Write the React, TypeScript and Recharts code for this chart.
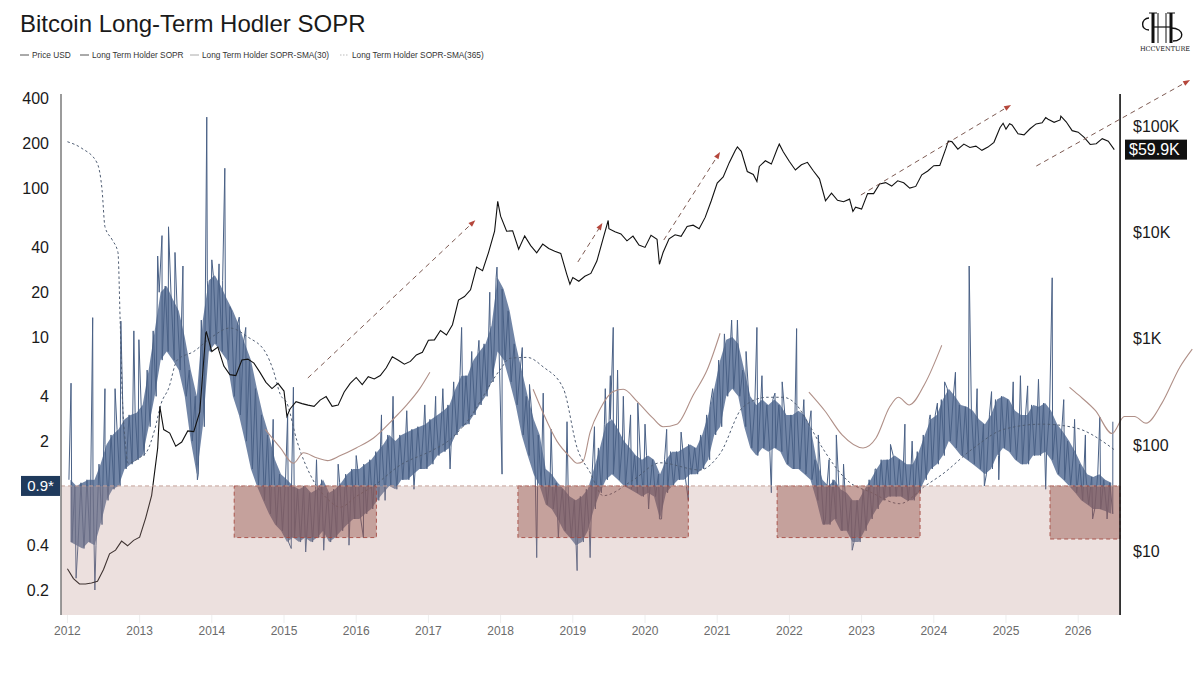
import React from "react";
import { ComposedChart, Line, Area, XAxis, YAxis, ReferenceArea, ReferenceLine } from "recharts";

// axis extents
const X_MIN = 2011.911;
const X_MAX = 2027.618;
const SOPR_MIN = 0.1359;
const SOPR_MAX = 428.9;
const PRICE_MIN = 2.5;
const PRICE_MAX = 200000;
const AXIS_T = 2026.58; // where the black price axis sits

const years = [2012, 2013, 2014, 2015, 2016, 2017, 2018, 2019, 2020, 2021, 2022, 2023, 2024, 2025, 2026];
const soprTicks = [0.2, 0.4, 1, 2, 4, 10, 20, 40, 100, 200, 400];
const priceTicks = [10, 100, 1000, 10000, 59900, 100000];
const priceTickText = ["$10", "$100", "$1K", "$10K", "$59.9K", "$100K"];

// monthly envelope of the daily LTH SOPR, Jan 2012 .. Jun 2026
const soprHigh = [
  1.1, 1.0, 1.05, 1.1, 1.1, 1.4, 1.9, 2.2, 2.4, 2.8, 3.0, 3.1, // 2012
  3.5, 6, 11, 20, 22, 18, 15, 10, 6, 4, 13, 24, // 2013
  26, 22, 18, 15, 12, 9, 7, 4.5, 3.0, 2.2, 1.5, 1.2, // 2014
  1.1, 1.0, 0.95, 1.0, 0.9, 0.95, 1.1, 0.9, 0.95, 1.05, 1.2, 1.3, // 2015
  1.3, 1.4, 1.5, 1.7, 1.9, 2.2, 2.0, 2.2, 2.3, 2.4, 2.5, 2.6, // 2016
  2.8, 3.0, 3.2, 3.5, 4.5, 5.5, 5.5, 7, 8, 9, 12, 25, // 2017
  21, 15, 9, 6, 4, 2.8, 2.2, 1.3, 1.2, 1.05, 0.95, 0.85, // 2018
  0.8, 0.85, 0.95, 1.3, 1.8, 2.6, 2.8, 2.4, 2.0, 1.8, 1.6, 1.5, // 2019
  1.6, 1.5, 1.2, 1.5, 1.7, 1.7, 1.8, 1.9, 1.8, 2.2, 3.0, 4.5, // 2020
  7, 9.6, 10, 9, 6, 4, 3.5, 3.8, 3.5, 3.8, 3.5, 3.0, // 2021
  3.0, 3.2, 3.0, 2.5, 1.5, 1.1, 1.0, 1.1, 0.95, 0.9, 0.8, 0.8, // 2022
  0.95, 1.1, 1.3, 1.5, 1.5, 1.6, 1.5, 1.4, 1.4, 1.7, 2.2, 2.8, // 2023
  3.0, 3.8, 4.5, 4.0, 3.5, 3.4, 3.2, 2.8, 2.6, 3.0, 3.8, 4.0, // 2024
  3.8, 3.2, 3.0, 3.0, 3.5, 3.4, 3.6, 3.2, 2.6, 2.3, 2.0, 1.7, // 2025
  1.4, 1.2, 1.15, 1.2, 1.1, 1.05, // 2026
];
const soprLow = [
  0.42, 0.4, 0.38, 0.42, 0.4, 0.55, 0.8, 0.95, 1.0, 1.3, 1.4, 1.5, // 2012
  1.6, 2.5, 4, 7, 8, 7, 6, 4, 2.0, 1.2, 2.5, 8, // 2013
  9, 8, 7, 4, 3, 2, 1.3, 1.0, 0.8, 0.65, 0.55, 0.5, // 2014
  0.42, 0.45, 0.42, 0.45, 0.42, 0.45, 0.5, 0.42, 0.45, 0.5, 0.55, 0.6, // 2015
  0.6, 0.65, 0.7, 0.8, 0.9, 1.0, 0.95, 1.1, 1.1, 1.2, 1.3, 1.3, // 2016
  1.4, 1.6, 1.7, 1.8, 2.2, 2.5, 2.6, 3.0, 3.5, 4, 5, 8, // 2017
  7, 5, 3.5, 2.2, 1.6, 1.2, 1.0, 0.75, 0.7, 0.6, 0.5, 0.45, // 2018
  0.4, 0.42, 0.5, 0.7, 0.9, 1.1, 1.2, 1.1, 1.0, 0.95, 0.9, 0.85, // 2019
  0.9, 0.85, 0.6, 0.9, 1.0, 1.1, 1.1, 1.2, 1.2, 1.3, 1.5, 2.2, // 2020
  2.5, 4, 4.5, 4, 2.5, 1.8, 1.6, 1.8, 1.7, 1.8, 1.7, 1.4, // 2021
  1.3, 1.3, 1.2, 1.1, 0.8, 0.55, 0.55, 0.6, 0.5, 0.5, 0.42, 0.42, // 2022
  0.5, 0.6, 0.7, 0.8, 0.85, 0.85, 0.85, 0.8, 0.8, 0.9, 1.1, 1.3, // 2023
  1.4, 1.6, 2.0, 1.8, 1.6, 1.5, 1.4, 1.3, 1.2, 1.3, 1.6, 1.8, // 2024
  1.7, 1.5, 1.4, 1.4, 1.6, 1.6, 1.7, 1.5, 1.2, 1.1, 1.0, 0.9, // 2025
  0.8, 0.75, 0.7, 0.7, 0.68, 0.65, // 2026
];
// single-day spikes [year, SOPR]
const soprSpikes: [number, number][] = [
  [2012.05, 4.9], [2012.12, 0.24], [2012.35, 13.5], [2012.38, 0.2], [2012.52, 4.5], [2012.66, 4.5],
  [2012.74, 12.8], [2012.92, 11], [2012.99, 9.6], [2013.25, 35], [2013.31, 48], [2013.4, 55],
  [2013.49, 37], [2013.6, 30], [2013.8, 1.1], [2013.93, 300], [2014.0, 33], [2014.1, 31],
  [2014.15, 24], [2014.18, 136], [2014.25, 16], [2014.38, 13.6], [2014.47, 11.6], [2014.85, 2.8],
  [2015.05, 3.0], [2015.1, 0.38], [2015.13, 4.6], [2015.3, 0.36], [2015.45, 1.5], [2015.55, 0.37],
  [2015.75, 1.4], [2015.9, 0.4], [2016.0, 1.6], [2016.1, 0.45], [2016.35, 3.0], [2016.4, 0.8],
  [2016.51, 4.0], [2016.7, 3.2], [2016.8, 0.95], [2016.95, 3.5], [2017.1, 4.0], [2017.2, 4.5],
  [2017.3, 1.3], [2017.35, 5.0], [2017.46, 11.6], [2017.6, 8], [2017.7, 9.5], [2017.85, 20],
  [2017.95, 29.5], [2018.02, 1.2], [2018.3, 8.5], [2018.4, 4.8], [2018.5, 0.33], [2018.59, 4.2],
  [2018.7, 2.4], [2018.8, 0.45], [2018.92, 2.7], [2019.06, 0.27], [2019.24, 0.33], [2019.3, 2.5],
  [2019.45, 4.5], [2019.52, 5.5], [2019.56, 11.6], [2019.62, 6.0], [2019.7, 4.0], [2019.8, 3.0],
  [2019.9, 3.6], [2020.0, 2.6], [2020.05, 0.7], [2020.2, 0.6], [2020.3, 2.4], [2020.5, 2.3],
  [2020.6, 0.8], [2020.9, 3.4], [2021.1, 10.5], [2021.2, 13], [2021.28, 13], [2021.4, 8],
  [2021.55, 11.6], [2021.62, 5.5], [2021.75, 0.9], [2021.8, 4.2], [2021.9, 5.0], [2022.1, 11.4],
  [2022.2, 3.8], [2022.3, 3.2], [2022.4, 2.2], [2022.5, 0.6], [2022.55, 1.5], [2022.65, 2.2],
  [2022.75, 1.4], [2022.87, 0.37], [2023.2, 1.3], [2023.4, 1.9], [2023.6, 2.6], [2023.7, 2.0],
  [2023.95, 3.0], [2024.05, 3.6], [2024.15, 5.0], [2024.3, 5.8], [2024.49, 30], [2024.6, 4.5],
  [2024.7, 1.0], [2024.8, 4.3], [2024.9, 1.1], [2025.1, 5.0], [2025.2, 5.5], [2025.3, 4.7],
  [2025.45, 5.2], [2025.55, 0.95], [2025.64, 25], [2025.8, 3.8], [2025.95, 2.8], [2026.1, 2.2],
  [2026.2, 0.6], [2026.3, 2.9], [2026.4, 0.6], [2026.48, 2.7],
];

// month-end BTC price, Jan 2012 .. Jun 2026
const priceClose = [
  5.5, 4.9, 4.9, 5.0, 5.2, 6.7, 9.4, 10.2, 12.4, 11.2, 12.6, 13.5,
  20.4, 33.4, 93, 139, 129, 97, 106, 135, 133, 204, 1130, 754,
  830, 550, 457, 448, 628, 640, 587, 480, 387, 338, 378, 320,
  217, 254, 244, 236, 230, 263, 284, 230, 236, 314, 378, 430,
  368, 437, 416, 448, 531, 673, 624, 573, 609, 701, 742, 964,
  970, 1190, 1080, 1348, 2300, 2480, 2875, 4700, 4340, 6470, 10230, 14160,
  10220, 10330, 6930, 9240, 7490, 6400, 7730, 7040, 6630, 6320, 4020, 3740,
  3460, 3850, 4100, 5350, 8570, 10820, 10090, 9630, 8300, 9200, 7570, 7200,
  9350, 8600, 6440, 8660, 9460, 9140, 11350, 11660, 10780, 13800, 19700, 29000,
  33100, 45200, 58900, 57800, 37300, 35000, 41600, 47100, 43800, 61300, 57000, 46300,
  38500, 43200, 45500, 37700, 31800, 19800, 23300, 20000, 19400, 20500, 17200, 16500,
  23100, 23100, 28500, 29300, 27200, 30500, 29200, 26000, 27000, 34700, 37700, 42300,
  42600, 61200, 71300, 60600, 67500, 62700, 64600, 59000, 63300, 70200, 96400, 93400,
  102400, 84400, 82500, 94200, 104600, 107100, 115700, 108200, 114000, 109500, 90400, 87500,
  78000, 67000, 68000, 76000, 72000, 59900,
];
const priceExtremes: [number, number][] = [
  [2012.0, 6.8], [2013.28, 230], [2013.925, 1150], [2015.04, 185], [2017.96, 19500], [2018.96, 3250],
  [2019.49, 12900], [2020.2, 5000], [2021.28, 63500], [2021.55, 30000], [2021.86, 67500],
  [2022.88, 15700], [2024.2, 72000], [2024.96, 106000], [2025.05, 105000], [2025.55, 120000],
  [2025.76, 124000],
];

// smooth dashed SOPR average
const smaSlow: [number, number][] = [
  [2012.0, 205], [2012.2, 185], [2012.41, 148], [2012.48, 97], [2012.52, 55], [2012.62, 45],
  [2012.7, 37], [2012.73, 13], [2012.76, 4], [2012.8, 2.0], [2012.84, 1.42], [2013.0, 1.55],
  [2013.1, 1.7], [2013.21, 2.4], [2013.3, 3.6], [2013.4, 4.5], [2013.52, 7.0], [2013.75, 8.0],
  [2014.0, 10.0], [2014.25, 11.5], [2014.5, 10.0], [2014.75, 7.8], [2014.85, 6.0], [2014.95, 4.1],
  [2015.04, 3.6], [2015.18, 2.0], [2015.4, 1.1], [2015.6, 0.82], [2015.78, 0.72], [2016.0, 0.85],
  [2016.24, 1.0], [2016.61, 1.38], [2017.06, 1.74], [2017.26, 1.98], [2017.53, 2.69], [2017.99, 6.0],
  [2018.13, 7.2], [2018.37, 7.3], [2018.59, 6.3], [2018.87, 4.5], [2019.06, 1.8], [2019.24, 1.23],
  [2019.42, 0.86], [2019.84, 1.1], [2020.21, 1.43], [2020.76, 1.28], [2021.04, 1.65], [2021.36, 3.4],
  [2021.69, 3.94], [2021.91, 3.94], [2022.1, 3.5], [2022.26, 2.64], [2022.44, 1.86], [2022.83, 1.06],
  [2023.12, 0.91], [2023.53, 0.76], [2023.88, 1.0], [2024.12, 1.2], [2024.54, 1.78], [2024.97, 2.4],
  [2025.5, 2.6], [2025.97, 2.45], [2026.4, 1.9], [2026.5, 1.75],
];

// thin brown average, drawn only in pieces
const smaFastSegments: [number, number][][] = [
  [[2014.74, 2.4], [2014.95, 1.8], [2015.13, 1.42], [2015.27, 1.67], [2015.46, 1.54], [2015.6, 1.48],
   [2015.78, 1.6], [2016.0, 1.8], [2016.24, 2.1], [2016.51, 2.8], [2016.7, 3.5], [2016.88, 4.5], [2017.02, 5.8]],
  [[2018.45, 4.46], [2018.59, 3.08], [2018.78, 2.0], [2018.96, 1.57], [2019.06, 1.42], [2019.14, 1.46],
   [2019.24, 2.3], [2019.38, 3.3], [2019.56, 4.3], [2019.7, 4.46], [2019.89, 3.7], [2020.11, 2.85],
   [2020.25, 2.5], [2020.44, 2.6], [2020.67, 4.1], [2020.86, 6.0], [2021.04, 10.6]],
  [[2022.27, 4.27], [2022.49, 3.2], [2022.73, 2.2], [2023.02, 1.8], [2023.2, 2.1], [2023.39, 3.4],
   [2023.51, 3.94], [2023.66, 3.5], [2023.88, 4.9], [2024.11, 8.8]],
  [[2025.88, 4.6], [2026.0, 4.1], [2026.24, 3.2], [2026.47, 2.25], [2026.64, 2.93], [2026.78, 2.93],
   [2026.94, 2.64], [2027.16, 3.6], [2027.41, 6.3], [2027.58, 8.3]],
];

// capitulation boxes [from, to, floor]
const lossZones: [number, number, number][] = [
  [2014.31, 2016.28, 0.45],
  [2018.24, 2020.6, 0.45],
  [2021.83, 2023.81, 0.45],
  [2025.61, AXIS_T, 0.44],
];

// dashed trend arrows on the price scale [t1, p1, t2, p2]
const trendArrows: [number, number, number, number][] = [
  [2015.33, 425, 2017.65, 13000],
  [2019.07, 5250, 2019.41, 12200],
  [2020.26, 8450, 2021.04, 56900],
  [2022.99, 22400, 2025.07, 158000],
  [2025.42, 42000, 2027.55, 271000],
];

const byT = (a: { t: number }, b: { t: number }) => a.t - b.t;

const soprRows = soprHigh
  .flatMap((h, m) => [
    { t: 2012 + (m + 0.25) / 12, v: h },
    { t: 2012 + (m + 0.75) / 12, v: soprLow[m] },
  ])
  .concat(soprSpikes.map(([t, v]) => ({ t, v })))
  .sort(byT);
const bandRows = soprHigh.map((h, m) => ({ t: 2012 + (m + 0.5) / 12, band: [soprLow[m], h] }));
const priceRows = priceClose
  .map((v, m) => ({ t: 2012 + (m + 1) / 12, v }))
  .concat(priceExtremes.map(([t, v]) => ({ t, v })))
  .sort(byT);
const slowRows = smaSlow.map(([t, v]) => ({ t, v }));
const fastRows = smaFastSegments.map((seg) => seg.map(([t, v]) => ({ t, v })));

const FONT = '"Liberation Sans", Arial, Helvetica, sans-serif';

const SoprTick = (props: any) => {
  const { y, payload } = props;
  if (payload.value === 1) {
    return (
      <g>
        <rect x={21} y={y - 10} width={39} height={20} fill="#1f3a5c" />
        <text x={40.5} y={y} dy="0.36em" textAnchor="middle" fill="#fff" fontSize={15} fontFamily={FONT}>
          0.9*
        </text>
      </g>
    );
  }
  return (
    <text x={49} y={y} dy="0.36em" textAnchor="end" fill="#1a1a1a" fontSize={16} fontFamily={FONT}>
      {payload.value}
    </text>
  );
};

// price scale labels, hung on reference lines so they sit right of the black axis
const priceLabel = (text: string, boxed: boolean) => (props: any) => {
  const vb = props.viewBox || {};
  const y = typeof vb.y === "number" ? vb.y : props.y;
  if (typeof y !== "number") return null;
  if (boxed) {
    return (
      <g>
        <rect x={1125} y={y - 10} width={62} height={20} fill="#111" />
        <text x={1129} y={y} dy="0.36em" fill="#fff" fontSize={16} fontFamily={FONT}>
          {text}
        </text>
      </g>
    );
  }
  return (
    <text x={1133} y={y} dy="0.36em" fill="#1a1a1a" fontSize={16} fontFamily={FONT}>
      {text}
    </text>
  );
};

const ArrowShape = (props: any) => {
  const { x1, y1, x2, y2 } = props;
  if ([x1, y1, x2, y2].some((n) => typeof n !== "number")) return null;
  const a = Math.atan2(y2 - y1, x2 - x1);
  const bx = x2 - 7 * Math.cos(a);
  const by = y2 - 7 * Math.sin(a);
  const px = 2.6 * Math.sin(a);
  const py = -2.6 * Math.cos(a);
  return (
    <g>
      <line x1={x1} y1={y1} x2={bx} y2={by} stroke="#7d5a52" strokeWidth={1} strokeDasharray="5 4" />
      <polygon points={`${x2},${y2} ${bx + px},${by + py} ${bx - px},${by - py}`} fill="#b5473c" />
    </g>
  );
};

const legendItems = [
  { label: "Price USD", left: 20, color: "#555", dash: "" },
  { label: "Long Term Holder SOPR", left: 80, color: "#555", dash: "" },
  { label: "Long Term Holder SOPR-SMA(30)", left: 190, color: "#aaa", dash: "" },
  { label: "Long Term Holder SOPR-SMA(365)", left: 340, color: "#bbb", dash: "1.5 1.5" },
];

export default function App() {
  return (
    <div style={{ position: "absolute", left: 0, top: 0, width: 1200, height: 675, background: "#fff", fontFamily: FONT }}>
      <div style={{ position: "absolute", left: 0, top: 0 }}>
        <ComposedChart width={1200} height={675} margin={{ top: 94, right: 5, bottom: 30, left: 0 }}>
          <XAxis
            dataKey="t"
            type="number"
            domain={[X_MIN, X_MAX]}
            allowDataOverflow
            ticks={years}
            interval={0}
            axisLine={false}
            tickLine={{ stroke: "#eeeeee" }}
            tickSize={8}
            tickMargin={3}
            height={30}
            tick={{ fill: "#6b6b6b", fontSize: 12, fontFamily: FONT }}
          />
          <YAxis
            yAxisId="sopr"
            orientation="left"
            scale="log"
            domain={[SOPR_MIN, SOPR_MAX]}
            allowDataOverflow
            ticks={soprTicks}
            interval={0}
            width={61}
            axisLine={{ stroke: "#7a7a7a", strokeWidth: 1.5 }}
            tickLine={false}
            tick={<SoprTick />}
          />
          <YAxis
            yAxisId="price"
            orientation="right"
            scale="log"
            domain={[PRICE_MIN, PRICE_MAX]}
            allowDataOverflow
            hide
          />

          <Area
            yAxisId="sopr"
            data={bandRows}
            dataKey="band"
            type="linear"
            stroke="none"
            fill="#4d6690"
            fillOpacity={0.8}
            isAnimationActive={false}
          />
          <Line
            yAxisId="sopr"
            data={soprRows}
            dataKey="v"
            type="linear"
            stroke="#4a6186"
            strokeWidth={1}
            dot={false}
            activeDot={false}
            isAnimationActive={false}
          />
          <Line
            yAxisId="sopr"
            data={slowRows}
            dataKey="v"
            type="monotone"
            stroke="#4f5d73"
            strokeWidth={1}
            strokeDasharray="2.5 2.5"
            dot={false}
            activeDot={false}
            isAnimationActive={false}
          />
          {fastRows.map((rows, i) => (
            <Line
              key={`fast-${i}`}
              yAxisId="sopr"
              data={rows}
              dataKey="v"
              type="monotone"
              stroke="#b09088"
              strokeWidth={1.1}
              dot={false}
              activeDot={false}
              isAnimationActive={false}
            />
          ))}
          <Line
            yAxisId="price"
            data={priceRows}
            dataKey="v"
            type="linear"
            stroke="#111"
            strokeWidth={1.1}
            dot={false}
            activeDot={false}
            isAnimationActive={false}
          />

          <ReferenceArea
            yAxisId="sopr"
            x1={X_MIN}
            x2={AXIS_T}
            y1={SOPR_MIN}
            y2={1}
            fill="#b98f88"
            fillOpacity={0.28}
            stroke="none"
            zIndex={450}
          />
          {lossZones.map(([a, b, floor], i) => (
            <ReferenceArea
              key={`zone-${i}`}
              yAxisId="sopr"
              x1={a}
              x2={b}
              y1={floor}
              y2={1}
              fill="#8e4a40"
              fillOpacity={0.42}
              stroke="#a4473d"
              strokeOpacity={0.85}
              strokeDasharray="4 3"
              zIndex={455}
            />
          ))}
          <ReferenceLine
            yAxisId="sopr"
            segment={[{ x: X_MIN, y: 1 }, { x: AXIS_T, y: 1 }]}
            stroke="#c4a19a"
            strokeDasharray="4 3"
            zIndex={456}
          />
          <ReferenceLine yAxisId="sopr" x={AXIS_T} stroke="#111" strokeWidth={1.6} zIndex={460} />
          {priceTicks.map((p, i) => (
            <ReferenceLine
              key={`ptick-${p}`}
              yAxisId="price"
              y={p}
              stroke="none"
              label={priceLabel(priceTickText[i], p === 59900)}
              zIndex={480}
            />
          ))}
          {trendArrows.map(([t1, p1, t2, p2], i) => (
            <ReferenceLine
              key={`arrow-${i}`}
              yAxisId="price"
              segment={[{ x: t1, y: p1 }, { x: t2, y: p2 }]}
              ifOverflow="visible"
              stroke="#7d5a52"
              shape={ArrowShape}
              zIndex={470}
            />
          ))}
        </ComposedChart>
      </div>

      <div style={{ position: "absolute", left: 20, top: 12, fontSize: 24, lineHeight: "24px", color: "#1a1a1a", whiteSpace: "nowrap" }}>
        Bitcoin Long-Term Hodler SOPR
      </div>
      {legendItems.map((it) => (
        <div
          key={it.label}
          style={{ position: "absolute", left: it.left, top: 50, height: 10, display: "flex", alignItems: "center", fontSize: 8.3, color: "#333", whiteSpace: "nowrap" }}
        >
          <svg width={9} height={4} style={{ marginRight: 3 }}>
            <line x1={0} y1={2} x2={9} y2={2} stroke={it.color} strokeWidth={1} strokeDasharray={it.dash || undefined} />
          </svg>
          {it.label}
        </div>
      ))}

      <svg width={60} height={52} style={{ position: "absolute", left: 1135, top: 6 }}>
        <path d="M14 12 C6 12 5 24 14 24" fill="none" stroke="#111" strokeWidth={1.4} />
        <line x1={18} y1={7} x2={18} y2={37} stroke="#111" strokeWidth={3} />
        <line x1={23} y1={7} x2={23} y2={37} stroke="#111" strokeWidth={1} />
        <line x1={31} y1={7} x2={31} y2={37} stroke="#111" strokeWidth={1} />
        <line x1={36} y1={7} x2={36} y2={37} stroke="#111" strokeWidth={3} />
        <line x1={18} y1={21} x2={36} y2={21} stroke="#111" strokeWidth={1.2} />
        <line x1={14} y1={7} x2={22} y2={7} stroke="#111" strokeWidth={1} />
        <line x1={32} y1={7} x2={40} y2={7} stroke="#111" strokeWidth={1} />
        <path d="M36 22 C50 22 50 35 38 35" fill="none" stroke="#111" strokeWidth={1.4} />
        <text x={30} y={45} textAnchor="middle" fontSize={6.5} fontFamily='"DejaVu Serif", "Liberation Serif", serif' fill="#111">
          HCCVENTURE
        </text>
      </svg>
    </div>
  );
}
